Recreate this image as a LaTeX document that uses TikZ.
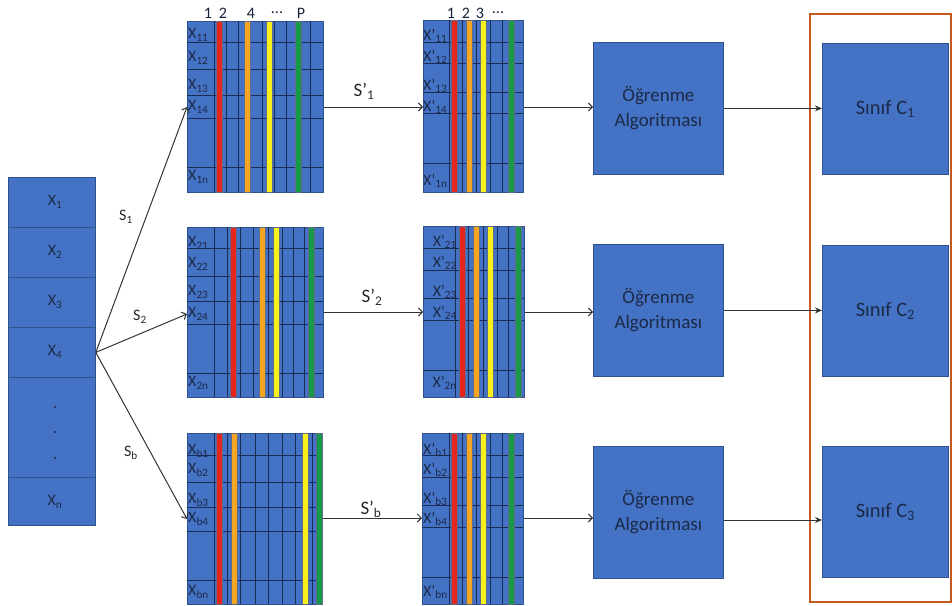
\documentclass[tikz,border=0pt]{standalone}
\usepackage{fontspec}
\setmainfont{Carlito}
\usetikzlibrary{arrows.meta}
\definecolor{boxblue}{HTML}{4472C4}
\definecolor{boxedge}{HTML}{2F528F}
\definecolor{gridc}{HTML}{1A2B55}
\definecolor{navy}{HTML}{1C2A48}
\definecolor{arrc}{HTML}{333333}
\definecolor{frameor}{HTML}{C65A1E}
\definecolor{barred}{HTML}{E5261F}
\definecolor{barorange}{HTML}{F4A622}
\definecolor{baryellow}{HTML}{F7F01A}
\definecolor{bargreen}{HTML}{18994A}
\tikzset{
  blk/.style={draw=boxedge, fill=boxblue, line width=0.8pt, inner sep=0pt, anchor=north west},
  gridln/.style={draw=gridc, line width=0.9pt},
  barbox/.style={draw=gridc!70, line width=0.4pt},
  mlbl/.style={text=navy, font=\fontsize{16}{16}\selectfont, inner sep=0pt},
  clbl/.style={text=navy, font=\fontsize{16}{16}\selectfont, inner sep=0pt},
  hlbl/.style={text=navy!80!black, font=\fontsize{16}{16}\selectfont, inner sep=0pt},
  slbl/.style={text=black!85, font=\fontsize{16}{16}\selectfont, inner sep=0pt},
  arr/.style={draw=arrc, line width=1pt, -{Straight Barb[length=4pt,width=8pt]}},
  arrf/.style={draw=arrc, line width=1pt, -{Stealth[length=7pt,width=6pt]}},
  dotn/.style={circle, fill=navy, inner sep=0pt, minimum size=2.4pt},
}
\newcommand{\sbx}[1]{\textsubscript{#1}}
\begin{document}
\begin{tikzpicture}[x=1pt,y=-1pt]
\useasboundingbox (0,0) rectangle (952,605);

% ---------------- left column ----------------
\node[blk, minimum width=87pt, minimum height=50pt] (x1) at (8,177) {};
\node[blk, minimum width=87pt, minimum height=50pt] (x2) at (8,227) {};
\node[blk, minimum width=87pt, minimum height=50pt] (x3) at (8,277) {};
\node[blk, minimum width=87pt, minimum height=50pt] (x4) at (8,327) {};
\node[blk, minimum width=87pt, minimum height=100pt] (xd) at (8,377) {};
\node[blk, minimum width=87pt, minimum height=48pt] (xn) at (8,477) {};
\node[clbl] (tx1) at (55,202) {X\sbx{1}};
\node[clbl] (tx2) at (55,252) {X\sbx{2}};
\node[clbl] (tx3) at (55,302) {X\sbx{3}};
\node[clbl] (tx4) at (55,352) {X\sbx{4}};
\node[dotn] (d1) at (55,407) {};
\node[dotn] (d2) at (55,432) {};
\node[dotn] (d3) at (55,458) {};
\node[clbl] (txn) at (55,502) {X\sbx{n}};

% ---------------- matrix 1 ----------------
\node[blk, minimum width=136pt, minimum height=171pt] (m1) at (187,21) {};
\foreach \y in {42,69,95,118,167} \draw[gridln] (187,\y) -- (323,\y);
\foreach \x in {214,226,238,250,262,274,286,298,310} \draw[gridln] (\x,21) -- (\x,192);
\foreach \c/\x in {barred/219,barorange/247,baryellow/269.5,bargreen/298}
  \draw[barbox, fill=\c] (\x-3,21) rectangle (\x+3,192);
\node[mlbl, anchor=west] (a11) at (188,35) {X\sbx{11}};
\node[mlbl, anchor=west] (a12) at (188,58) {X\sbx{12}};
\node[mlbl, anchor=west] (a13) at (188,86) {X\sbx{13}};
\node[mlbl, anchor=west] (a14) at (188,107) {X\sbx{14}};
\node[mlbl, anchor=west] (a1n) at (188,177) {X\sbx{1n}};
\node[hlbl] (h11) at (208,13) {1};
\node[hlbl] (h12) at (223,13) {2};
\node[hlbl] (h14) at (251,13) {4};
\node[hlbl] (h1d) at (277,13) {...};
\node[hlbl] (h1p) at (301,13) {P};

% ---------------- matrix 2 ----------------
\node[blk, minimum width=136pt, minimum height=170pt] (m2) at (187,227) {};
\foreach \y in {248,276,301,324,373} \draw[gridln] (187,\y) -- (323,\y);
\foreach \x in {214,227,240,253,268,282,293,304} \draw[gridln] (\x,227) -- (\x,397);
\foreach \c/\x in {barred/233.5,barorange/262.5,baryellow/276.5,bargreen/311.5}
  \draw[barbox, fill=\c] (\x-3,227) rectangle (\x+3,397);
\node[mlbl, anchor=west] (a21) at (188,243) {X\sbx{21}};
\node[mlbl, anchor=west] (a22) at (188,264) {X\sbx{22}};
\node[mlbl, anchor=west] (a23) at (188,292) {X\sbx{23}};
\node[mlbl, anchor=west] (a24) at (188,314) {X\sbx{24}};
\node[mlbl, anchor=west] (a2n) at (188,383) {X\sbx{2n}};

% ---------------- matrix 3 ----------------
\node[blk, minimum width=135pt, minimum height=171pt] (m3) at (187,433) {};
\foreach \y in {455,482,507,531,580} \draw[gridln] (187,\y) -- (322,\y);
\foreach \x in {214,227,240,255,268,282,295,312} \draw[gridln] (\x,433) -- (\x,604);
\foreach \c/\x in {barred/219,barorange/234,baryellow/305.5,bargreen/319}
  \draw[barbox, fill=\c] (\x-3,433) rectangle (\x+3,604);
\node[mlbl, anchor=west] (ab1) at (188,451) {X\sbx{b1}};
\node[mlbl, anchor=west] (ab2) at (188,470) {X\sbx{b2}};
\node[mlbl, anchor=west] (ab3) at (188,500) {X\sbx{b3}};
\node[mlbl, anchor=west] (ab4) at (188,519) {X\sbx{b4}};
\node[mlbl, anchor=west] (abn) at (188,592) {X\sbx{bn}};

% ---------------- matrix 1' ----------------
\node[blk, minimum width=100pt, minimum height=172pt] (p1) at (423,20) {};
\foreach \y in {42,63,92,113,163} \draw[gridln] (423,\y) -- (523,\y);
\foreach \x in {449,462,476,490,502} \draw[gridln] (\x,20) -- (\x,192);
\foreach \c/\x in {barred/454,barorange/469,baryellow/483.5,bargreen/511.5}
  \draw[barbox, fill=\c] (\x-3,20) rectangle (\x+3,192);
\node[mlbl, anchor=west] (b11) at (423,36) {X’\sbx{11}};
\node[mlbl, anchor=west] (b12) at (423,57) {X’\sbx{12}};
\node[mlbl, anchor=west] (b13) at (423,86) {X’\sbx{13}};
\node[mlbl, anchor=west] (b14) at (423,107) {X’\sbx{14}};
\node[mlbl, anchor=west] (b1n) at (423,181) {X’\sbx{1n}};
\node[hlbl] (g11) at (451,13) {1};
\node[hlbl] (g12) at (466,13) {2};
\node[hlbl] (g13) at (480,13) {3};
\node[hlbl] (g1d) at (498,13) {...};

% ---------------- matrix 2' ----------------
\node[blk, minimum width=101pt, minimum height=171pt] (p2) at (423,226) {};
\foreach \y in {248,270,298,320,370} \draw[gridln] (423,\y) -- (524,\y);
\foreach \x in {455,468,483,497,508} \draw[gridln] (\x,226) -- (\x,397);
\foreach \c/\x in {barred/462,barorange/476,baryellow/490,bargreen/518.5}
  \draw[barbox, fill=\c] (\x-3,226) rectangle (\x+3,397);
\node[mlbl, anchor=east] (b21) at (457,242) {X’\sbx{21}};
\node[mlbl, anchor=east] (b22) at (457,263) {X’\sbx{22}};
\node[mlbl, anchor=east] (b23) at (457,292) {X’\sbx{23}};
\node[mlbl, anchor=east] (b24) at (457,313) {X’\sbx{24}};
\node[mlbl, anchor=east] (b2n) at (457,383) {X’\sbx{2n}};

% ---------------- matrix 3' ----------------
\node[blk, minimum width=101pt, minimum height=171pt] (p3) at (422,433) {};
\foreach \y in {455,477,505,527,577} \draw[gridln] (422,\y) -- (523,\y);
\foreach \x in {449,462,476,490,502} \draw[gridln] (\x,433) -- (\x,604);
\foreach \c/\x in {barred/454,barorange/469,baryellow/483.5,bargreen/511.5}
  \draw[barbox, fill=\c] (\x-3,433) rectangle (\x+3,604);
\node[mlbl, anchor=west] (bb1) at (423,450) {X’\sbx{b1}};
\node[mlbl, anchor=west] (bb2) at (423,470) {X’\sbx{b2}};
\node[mlbl, anchor=west] (bb3) at (423,499) {X’\sbx{b3}};
\node[mlbl, anchor=west] (bb4) at (423,519) {X’\sbx{b4}};
\node[mlbl, anchor=west] (bbn) at (423,592) {X’\sbx{bn}};

% ---------------- learning boxes ----------------
\tikzset{lrn/.style={blk, minimum width=130pt, minimum height=132pt, align=center, text=navy, font=\fontsize{19}{25}\selectfont}}
\node[lrn] (L1) at (593,42) {Öğrenme\\Algoritması};
\node[lrn] (L2) at (593,244) {Öğrenme\\Algoritması};
\node[lrn] (L3) at (593,446) {Öğrenme\\Algoritması};

% ---------------- class frame and boxes ----------------
\node[draw=frameor, line width=2pt, minimum width=141pt, minimum height=588pt, anchor=north west, inner sep=0pt] (frame) at (809,13) {};
\tikzset{cls/.style={blk, minimum width=126pt, minimum height=131pt, text=navy, font=\fontsize{20.5}{20.5}\selectfont}}
\node[cls] (C1) at (822,43) {Sınıf C\sbx{1}};
\node[cls] (C2) at (822,245) {Sınıf C\sbx{2}};
\node[cls] (C3) at (822,446) {Sınıf C\sbx{3}};

% ---------------- connectors ----------------
\coordinate (r1) at (0,107);
\coordinate (r2) at (0,312);
\coordinate (r3) at (0,518);
\coordinate (q3) at (0,520);
\draw[arr] (x4.east) -- (m1.west |- a14);
\draw[arr] (x4.east) -- (m2.west |- a24);
\draw[arr] (x4.east) -- (m3.west |- ab4);
\draw[arr] (m1.east |- r1) -- (p1.west |- r1);
\draw[arr] (m2.east |- r2) -- (p2.west |- r2);
\draw[arr] (m3.east |- r3) -- (p3.west |- r3);
\draw[arr] (p1.east |- r1) -- (L1.west |- r1);
\draw[arr] (p2.east |- r2) -- (L2.west |- r2);
\draw[arr] (p3.east |- r3) -- (L3.west |- r3);
\draw[arrf] (L1.east) -- (L1.east -| C1.west);
\draw[arrf] (L2.east) -- (L2.east -| C2.west);
\draw[arrf] (L3.east |- q3) -- (C3.west |- q3);

% ---------------- edge labels ----------------
\node[slbl] (s1) at (126,217) {S\sbx{1}};
\node[slbl] (s2) at (140,317) {S\sbx{2}};
\node[slbl] (sb) at (131,453) {S\sbx{b}};
\node[slbl, font=\fontsize{19}{19}\selectfont] (t1) at (364,91) {S’\sbx{1}};
\node[slbl, font=\fontsize{19}{19}\selectfont] (t2) at (372,297) {S’\sbx{2}};
\node[slbl, font=\fontsize{19}{19}\selectfont] (tb) at (371,509) {S’\sbx{b}};
\end{tikzpicture}
\end{document}
